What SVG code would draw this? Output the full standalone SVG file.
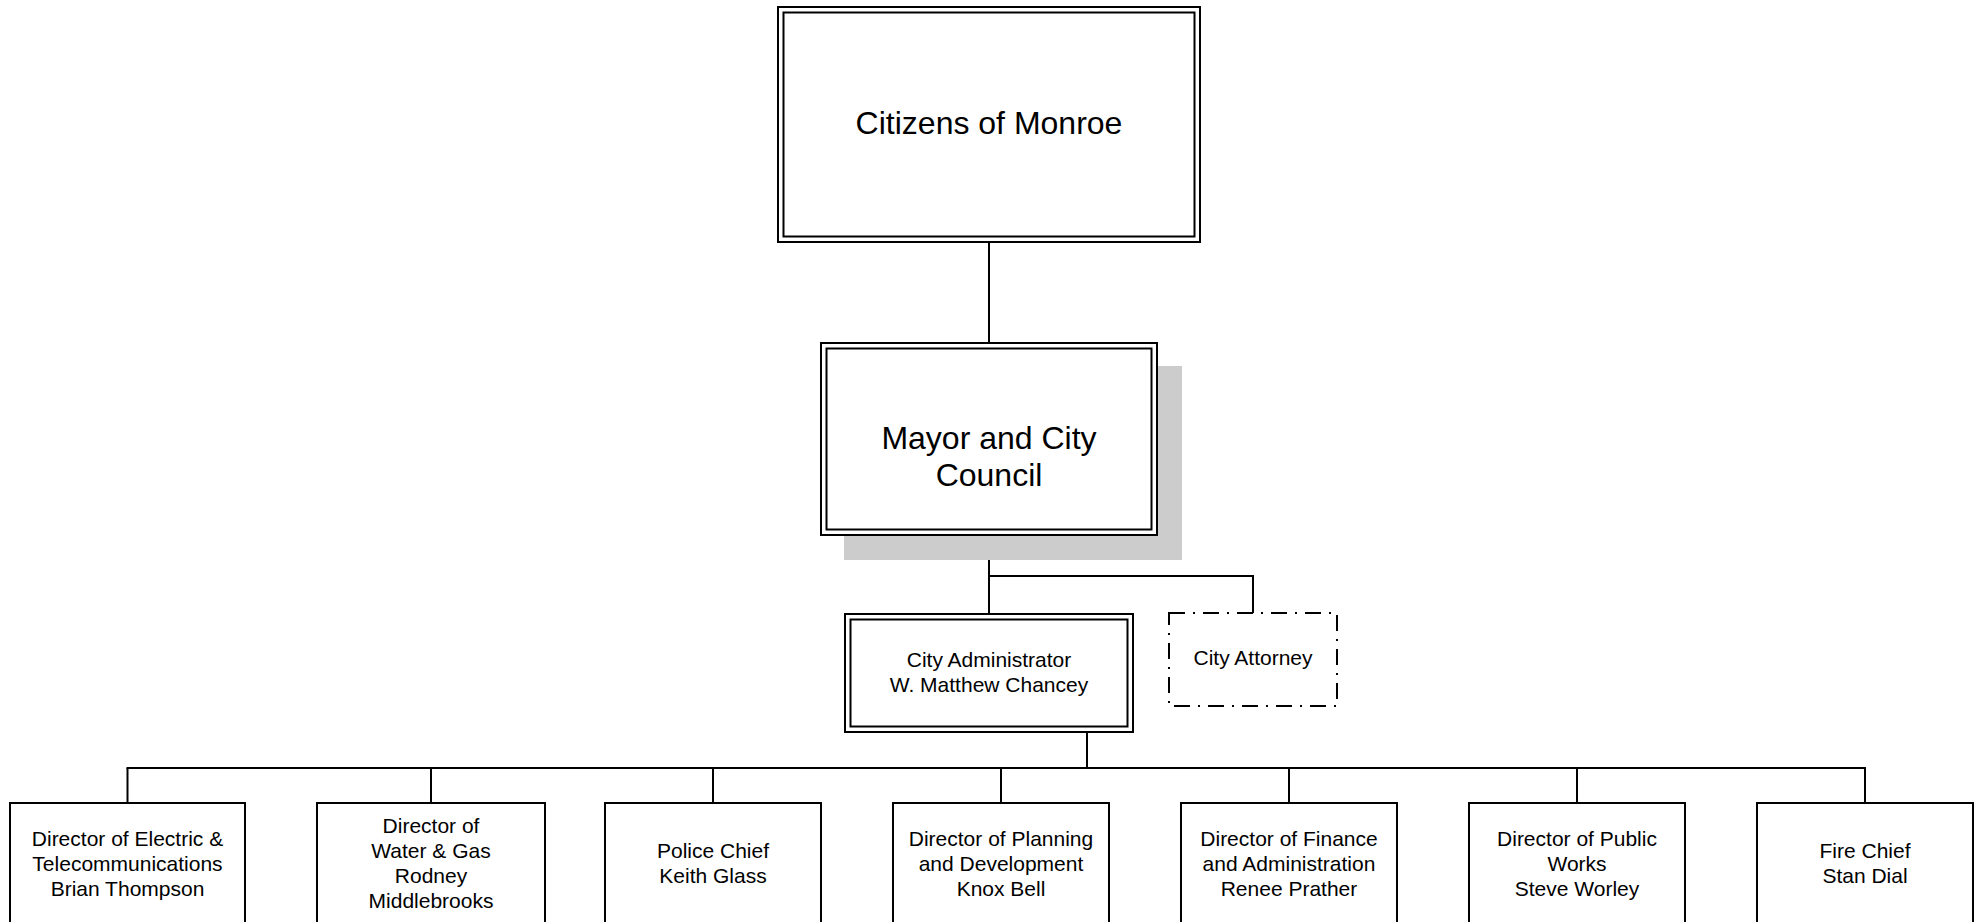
<svg xmlns="http://www.w3.org/2000/svg" width="1982" height="922" viewBox="0 0 1982 922">
<style>
text{font-family:"Liberation Sans",Arial,sans-serif;fill:#000;text-anchor:middle}
.big{font-size:32px}
.sm{font-size:21px}
.box{fill:#fff;stroke:#000;stroke-width:2}
.in{fill:none;stroke:#000;stroke-width:2}
.dash{fill:#fff;stroke:#000;stroke-width:2;stroke-dasharray:16 8 2 8}
.con line{stroke:#000;stroke-width:2}
</style>
<rect width="1982" height="922" fill="#fff"/>
<g class="con" id="connectors">
<line x1="989" y1="242" x2="989" y2="343"/>
<line x1="989" y1="535" x2="989" y2="614"/>
<line x1="988" y1="576" x2="1254" y2="576"/>
<line x1="1253" y1="576" x2="1253" y2="613"/>
<line x1="1087" y1="732" x2="1087" y2="768"/>
<line x1="126.5" y1="768" x2="1866" y2="768"/>
<line x1="127.5" y1="768" x2="127.5" y2="803"/>
<line x1="431" y1="768" x2="431" y2="803"/>
<line x1="713" y1="768" x2="713" y2="803"/>
<line x1="1001" y1="768" x2="1001" y2="803"/>
<line x1="1289" y1="768" x2="1289" y2="803"/>
<line x1="1577" y1="768" x2="1577" y2="803"/>
<line x1="1865" y1="768" x2="1865" y2="803"/>
</g>
<g id="citizens">
<rect class="box" x="778" y="7" width="422" height="235"/>
<rect class="in" x="783.5" y="12.5" width="411" height="224"/>
<text class="big" x="989" y="134">Citizens of Monroe</text>
</g>
<g id="mayor">
<rect x="844" y="366" width="338" height="194" fill="#cccccc"/>
<rect class="box" x="821" y="343" width="336" height="192"/>
<rect class="in" x="826.5" y="348.5" width="325" height="181"/>
<text class="big" x="989" y="449">Mayor and City</text>
<text class="big" x="989" y="486">Council</text>
</g>
<g id="administrator">
<rect class="box" x="845" y="614" width="288" height="118"/>
<rect class="in" x="850.5" y="619.5" width="277" height="107"/>
<text class="sm" x="989" y="666.5">City Administrator</text>
<text class="sm" x="989" y="691.5">W. Matthew Chancey</text>
</g>
<g id="attorney">
<rect class="dash" x="1169" y="613" width="168" height="93"/>
<text class="sm" x="1253" y="665">City Attorney</text>
</g>
<g id="electric">
<rect class="box" x="10" y="803" width="235" height="160"/>
<text class="sm" x="127.5" y="845.5">Director of Electric &amp;</text>
<text class="sm" x="127.5" y="870.5">Telecommunications</text>
<text class="sm" x="127.5" y="895.5">Brian Thompson</text>
</g>
<g id="water">
<rect class="box" x="317" y="803" width="228" height="160"/>
<text class="sm" x="431" y="833">Director of</text>
<text class="sm" x="431" y="858">Water &amp; Gas</text>
<text class="sm" x="431" y="883">Rodney</text>
<text class="sm" x="431" y="908">Middlebrooks</text>
</g>
<g id="police">
<rect class="box" x="605" y="803" width="216" height="160"/>
<text class="sm" x="713" y="858">Police Chief</text>
<text class="sm" x="713" y="883">Keith Glass</text>
</g>
<g id="planning">
<rect class="box" x="893" y="803" width="216" height="160"/>
<text class="sm" x="1001" y="845.5">Director of Planning</text>
<text class="sm" x="1001" y="870.5">and Development</text>
<text class="sm" x="1001" y="895.5">Knox Bell</text>
</g>
<g id="finance">
<rect class="box" x="1181" y="803" width="216" height="160"/>
<text class="sm" x="1289" y="845.5">Director of Finance</text>
<text class="sm" x="1289" y="870.5">and Administration</text>
<text class="sm" x="1289" y="895.5">Renee Prather</text>
</g>
<g id="publicworks">
<rect class="box" x="1469" y="803" width="216" height="160"/>
<text class="sm" x="1577" y="845.5">Director of Public</text>
<text class="sm" x="1577" y="870.5">Works</text>
<text class="sm" x="1577" y="895.5">Steve Worley</text>
</g>
<g id="fire">
<rect class="box" x="1757" y="803" width="216" height="160"/>
<text class="sm" x="1865" y="858">Fire Chief</text>
<text class="sm" x="1865" y="883">Stan Dial</text>
</g>
</svg>
